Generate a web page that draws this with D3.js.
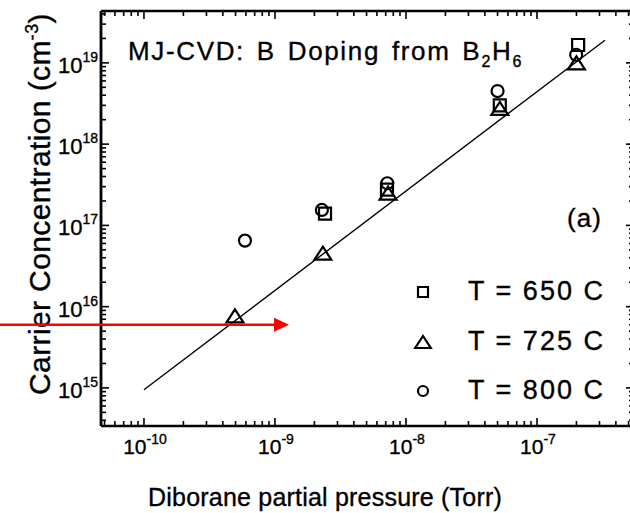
<!DOCTYPE html>
<html><head><meta charset="utf-8">
<script src="https://cdn.jsdelivr.net/npm/d3@7"></script>
<style>
html,body{margin:0;padding:0;background:#fff;}
svg{display:block;font-family:"Liberation Sans",Arial,Helvetica,sans-serif;}
text{stroke:#000;stroke-width:0.35px;fill:#000;}
</style></head>
<body>
<svg id="chart" width="630" height="513"></svg>
<script>
// ---- data ----
const pressure650 = [2.41e-9, 7.16e-9, 5.2e-8, 2.06e-7];
const conc650     = [1.4e17, 2.75e17, 3.0e18, 1.66e19];
const pressure725 = [4.95e-10, 2.32e-9, 7.3e-9, 5.2e-8, 2.0e-7];
const conc725     = [7.7e15, 4.55e16, 2.5e17, 2.75e18, 1.0e19];
const pressure800 = [5.9e-10, 2.28e-9, 7.2e-9, 5.0e-8, 1.99e-7];
const conc800     = [6.5e16, 1.55e17, 3.3e17, 4.5e18, 1.26e19];
const fitPressure = [1e-10, 3.3e-7];
const fitConc     = [9.5e14, 1.9e19];
const legendLabels = ["T = 650 C", "T = 725 C", "T = 800 C"];
const xTickExponents = [-10, -9, -8, -7];
const yTickExponents = [15, 16, 17, 18, 19];
const arrowConc = 6e15, arrowTipPressure = 1.28e-9;

const svg = d3.select("#chart");
const W = 630, H = 513;
const L = 101, R = 634, T = 11, B = 426;

const x = d3.scaleLog().domain([4.7e-11, 5.5e-7]).range([L, R]);
const y = d3.scaleLog().domain([3.4e14, 4.35e19]).range([B, T]);

svg.append("rect").attr("width", W).attr("height", H).attr("fill", "#fff");

function fitWidth(sel, target) {
  const node = sel.node();
  const n = node.textContent.length;
  const ls = parseFloat(sel.attr("letter-spacing")) || 0;
  const w = node.getBBox().width;
  sel.attr("letter-spacing", ls + (target - w) / n);
}

// ---- ticks ----
function logTicks(dom, minExp, maxExp) {
  const out = [];
  for (let e = minExp; e <= maxExp; e++)
    for (let m = 1; m <= 9; m++) {
      const v = m * Math.pow(10, e);
      if (v >= dom[0] && v <= dom[1]) out.push({v, major: m === 1});
    }
  return out;
}
const xt = logTicks(x.domain(), -11, -7);
const yt = logTicks(y.domain(), 14, 19);

const axisG = svg.append("g").attr("stroke", "#000").attr("fill", "none");
xt.forEach(t => {
  const px = x(t.v), len = t.major ? 8 : 5;
  axisG.append("line").attr("x1", px).attr("x2", px).attr("y1", B).attr("y2", B - len).attr("stroke-width", 1.6);
  axisG.append("line").attr("x1", px).attr("x2", px).attr("y1", T).attr("y2", T + len).attr("stroke-width", 1.6);
});
yt.forEach(t => {
  const py = y(t.v), len = t.major ? 8 : 5;
  axisG.append("line").attr("x1", L).attr("x2", L + len).attr("y1", py).attr("y2", py).attr("stroke-width", 1.6);
  axisG.append("line").attr("x1", R).attr("x2", R - len).attr("y1", py).attr("y2", py).attr("stroke-width", 1.6);
});
axisG.append("line").attr("x1", L).attr("x2", L).attr("y1", T).attr("y2", B).attr("stroke-width", 2.8);
axisG.append("line").attr("x1", L).attr("x2", R).attr("y1", B).attr("y2", B).attr("stroke-width", 2.4);
axisG.append("line").attr("x1", L).attr("x2", R).attr("y1", T).attr("y2", T).attr("stroke-width", 2.4);
axisG.append("line").attr("x1", R).attr("x2", R).attr("y1", T).attr("y2", B).attr("stroke-width", 2.4);

// ---- tick labels ----
xTickExponents.forEach(e => {
  const t = svg.append("text").attr("x", x(Math.pow(10, e)) + 1).attr("y", 454)
    .attr("text-anchor", "middle").attr("font-size", 21);
  t.append("tspan").text("10");
  t.append("tspan").attr("font-size", 14).attr("dy", -10).text(String(e));
});
yTickExponents.forEach(e => {
  const t = svg.append("text").attr("x", 98).attr("y", y(Math.pow(10, e)) + 10)
    .attr("text-anchor", "end").attr("font-size", 22);
  t.append("tspan").text("10");
  t.append("tspan").attr("font-size", 14).attr("dy", -11).text(String(e));
});

// ---- axis titles ----
const xl = svg.append("text").attr("x", 148).attr("y", 506)
  .attr("font-size", 25).text("Diborane partial pressure (Torr)");
fitWidth(xl, 354);

const yl = svg.append("text").attr("transform", "translate(50,395) rotate(-90)")
  .attr("font-size", 30);
yl.append("tspan").text("Carrier Concentration (cm");
yl.append("tspan").attr("font-size", 18).attr("dy", -12).text("-3");
yl.append("tspan").attr("dy", 12).text(")");
fitWidth(yl, 382);

// ---- title ----
const title = svg.append("text").attr("x", 128).attr("y", 60).attr("font-size", 26).attr("word-spacing", 3);
title.append("tspan").text("MJ-CVD: B Doping from B");
title.append("tspan").attr("font-size", 16).attr("dy", 7).text("2");
title.append("tspan").attr("dy", -7).text("H");
title.append("tspan").attr("font-size", 16).attr("dy", 7).text("6");
fitWidth(title, 395);

const lab = svg.append("text").attr("x", 567).attr("y", 227).attr("font-size", 26).text("(a)");
fitWidth(lab, 35);

// ---- fit line ----
svg.append("path")
  .attr("d", d3.line().x(d => x(d[0])).y(d => y(d[1]))(d3.zip(fitPressure, fitConc)))
  .attr("stroke", "#000").attr("stroke-width", 1.4).attr("fill", "none");

// ---- markers ----
function markerPath(kind, s) {
  if (kind === "square") { const h = s / 2; return `M${-h},${-h}H${h}V${h}H${-h}Z`; }
  if (kind === "triangle") { const w = s * 0.65, hh = s * 0.5; return `M0,${-hh}L${w},${hh}L${-w},${hh}Z`; }
  const r = s / 2; return `M${r},0A${r},${r} 0 1,1 ${-r},0A${r},${r} 0 1,1 ${r},0Z`;
}
const seriesList = [
  {kind: "square", p: pressure650, c: conc650, size: 12},
  {kind: "triangle", p: pressure725, c: conc725, size: 13},
  {kind: "circle", p: pressure800, c: conc800, size: 12}
];
seriesList.forEach(s => {
  svg.append("g").selectAll("path").data(d3.zip(s.p, s.c)).join("path")
    .attr("transform", d => `translate(${x(d[0])},${y(d[1])})`)
    .attr("d", markerPath(s.kind, s.size))
    .attr("fill", "none").attr("stroke", "#000").attr("stroke-width", 2.2);
});

// ---- legend ----
const legendY = [292, 342, 391];
seriesList.forEach((s, i) => {
  svg.append("path").attr("transform", `translate(423,${legendY[i]})`)
    .attr("d", markerPath(s.kind, s.kind === "triangle" ? 12 : 10))
    .attr("fill", "none").attr("stroke", "#000").attr("stroke-width", 2.2);
  const lt = svg.append("text").attr("x", 468).attr("y", legendY[i] + 8).attr("font-size", 27)
    .text(legendLabels[i]);
  fitWidth(lt, 137);
});

// ---- red arrow annotation ----
const ay = y(arrowConc), tipX = x(arrowTipPressure);
svg.append("line").attr("x1", 0).attr("x2", tipX - 12).attr("y1", ay).attr("y2", ay)
  .attr("stroke", "#f00").attr("stroke-width", 2.5);
svg.append("path").attr("d", `M${tipX},${ay}L${tipX - 15},${ay - 7}L${tipX - 15},${ay + 7}Z`).attr("fill", "#f00");
</script>
</body></html>
